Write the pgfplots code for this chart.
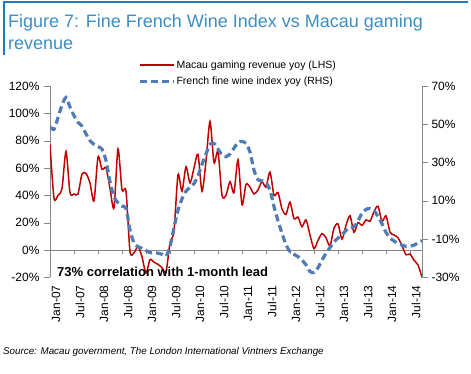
\documentclass[border=0pt]{standalone}
\usepackage{fontspec}
\setmainfont{Liberation Sans}
\usepackage{pgfplots}
\usepackage{pgfplotstable}
\pgfplotsset{compat=1.18}
\definecolor{macau}{RGB}{192,0,0}
\definecolor{wine}{RGB}{79,124,180}
\definecolor{titleblue}{RGB}{60,142,196}
\definecolor{frameblue}{RGB}{30,125,185}
\definecolor{axgray}{RGB}{134,134,134}

\pgfplotstableread{
m v
0 77
1 38
2 40
3 45
4 72
5 42
6 41
7 41
8 55.5
9 56
10 49
11 36
12 68
13 59
14 60
15 45
16 31
17 74
18 44
19 43
20 -1
21 -2
22 2.4
23 -5
24 -17
25 -7
26 -9
27 -10.5
28 -13
29 -16
30 5
31 14
32 55
33 43
34 61
35 49
36 60
37 70
38 43
39 65
40 94
41 64
42 72
43 40
44 40
45 50
46 42
47 66
48 33
49 48
50 46
51 41
52 44
53 50
54 46
55 57
56 40
57 42
58 30
59 26
60 35
61 23
62 24
63 17
64 22
65 11
66 1
67 7
68 12
69 9
70 3
71 16
72 19
73 8
74 18
75 25
76 13
77 20
78 18
79 22
80 21
81 28
82 32
83 21
84 25
85 13
86 11
87 9
88 3
89 -3.5
90 -3
91 -7.5
92 -11
93 -20
}\macautable

\pgfplotstableread{
m v
0 48.7
1 47.4
2 53.5
3 60
4 64
5 59
6 54.5
7 51
8 49
9 45
10 41.4
11 39.5
12 38.3
13 37
14 31
15 20
16 12
17 9
18 7.2
19 6.1
20 -5.3
21 -12
22 -14
23 -14.8
24 -16
25 -17.1
26 -17.2
27 -17.4
28 -18
29 -19
30 -14
31 -4
32 5
33 11
34 15
35 17
36 19
37 23
38 29
39 34.5
40 39.5
41 40
42 37
43 34
44 33
45 34.5
46 37.5
47 40.5
48 41
49 40
50 35.5
51 26
52 21
53 20.5
54 19.5
55 15.6
56 7
57 -0.5
58 -7
59 -13
60 -16.6
61 -18
62 -19.2
63 -21
64 -23.5
65 -27
66 -27.5
67 -25
68 -21
69 -17.5
70 -14.5
71 -11.5
72 -9.5
73 -7.8
74 -5.5
75 -4
76 -3.5
77 -0.5
78 3.5
79 5.5
80 6
81 5
82 1.7
83 -2
84 -6.5
85 -9.5
86 -11
87 -12.3
88 -13.2
89 -13.8
90 -13.7
91 -13.2
92 -12
93 -10.8
}\winetable

\begin{document}
\begin{tikzpicture}
\path (0pt,0pt) rectangle (471pt,374pt);
% frame and title
\draw[frameblue, line width=1.8pt] (2.6pt,372pt) -- (468pt,372pt);
\draw[frameblue, line width=1.8pt] (3.6pt,372.9pt) -- (3.6pt,319pt);
\node[anchor=base west, text=titleblue, font=\fontsize{18}{20}\selectfont, inner sep=0pt] at (8pt,346pt) {Figure 7: Fine French Wine Index vs Macau gaming};
\node[anchor=base west, text=titleblue, font=\fontsize{18}{20}\selectfont, inner sep=0pt] at (8pt,324.5pt) {revenue};

\begin{axis}[
  at={(50pt,96.7pt)}, anchor=south west,
  scale only axis, width=372pt, height=191.3pt,
  xmin=0, xmax=93, ymin=-20, ymax=120,
  axis y line*=left, axis x line*=bottom,
  x axis line style={draw=none},
  y axis line style={axgray},
  xtick={0,6,...,90},
  xticklabels={Jan-07,Jul-07,Jan-08,Jul-08,Jan-09,Jul-09,Jan-10,Jul-10,Jan-11,Jul-11,Jan-12,Jul-12,Jan-13,Jul-13,Jan-14,Jul-14},
  x tick style={draw=none},
  xticklabel style={rotate=90, anchor=east, font=\fontsize{12}{12}\selectfont, xshift=1.5pt, yshift=-6pt},
  ytick={-20,0,...,120},
  yticklabels={-20\%,0\%,20\%,40\%,60\%,80\%,100\%,120\%},
  y tick style={axgray},
  tick align=outside, major tick length=6pt,
  yticklabel style={font=\fontsize{12}{12}\selectfont, xshift=-1pt},
]
\draw[axgray] (axis cs:0,0) -- (axis cs:93,0);
\pgfplotsinvokeforeach{0,6,...,90}{\draw[axgray] (axis cs:#1,0) -- ++(0pt,-4.5pt);}
\addplot[macau, line width=1.5pt, smooth, tension=0.45] table[x=m, y=v] {\macautable};
\end{axis}

\begin{axis}[
  at={(50pt,96.7pt)}, anchor=south west,
  scale only axis, width=372pt, height=191.3pt,
  xmin=0, xmax=93, ymin=-30, ymax=70,
  axis y line*=right, axis x line=none,
  y axis line style={axgray},
  ytick={-30,-10,...,70},
  yticklabels={-30\%,-10\%,10\%,30\%,50\%,70\%},
  y tick style={axgray},
  tick align=outside, major tick length=6pt,
  yticklabel style={font=\fontsize{12}{12}\selectfont, xshift=0pt},
  legend style={draw=none, fill=none, at={(0.237,0.993)}, anchor=south west,
    font=\fontsize{10.5}{11}\selectfont, inner sep=0pt, row sep=5.5pt,
    nodes={inner sep=1pt}},
  legend cell align=left,
  legend image code/.code={\draw[#1] (0pt,0pt) -- (34pt,0pt);},
]
\addlegendimage{macau, line width=1.5pt}
\addlegendentry{Macau gaming revenue yoy (LHS)}
\addplot[wine, line width=3.2pt, dash pattern=on 7pt off 4pt, smooth, tension=0.45] table[x=m, y=v] {\winetable};
\addlegendentry{French fine wine index yoy (RHS)}
\end{axis}

\node[anchor=base west, font=\bfseries\fontsize{13}{13}\selectfont, inner sep=0pt] at (57pt,97pt) {73\% correlation with 1-month lead};
\node[anchor=base west, font=\itshape\fontsize{9.8}{10}\selectfont, inner sep=0pt] at (3pt,19pt) {Source: Macau government, The London International Vintners Exchange};
\end{tikzpicture}
\end{document}
